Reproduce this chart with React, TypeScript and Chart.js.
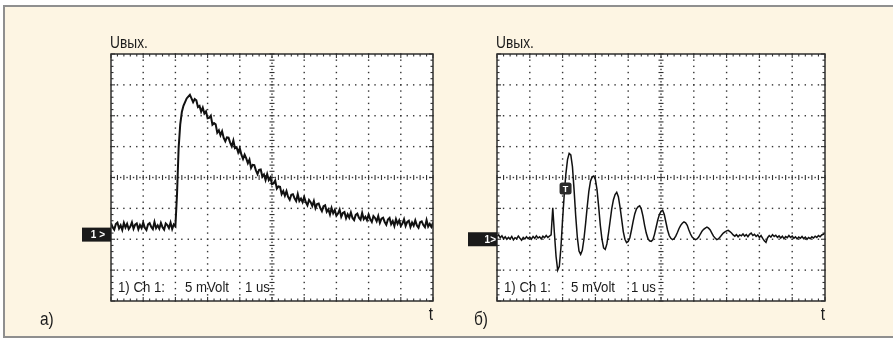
import React, { useEffect, useRef } from "react";
import { Chart, registerables } from "chart.js";

Chart.register(...registerables);

// Oscilloscope screen: 10 horizontal divisions, 8 vertical divisions (centre = 0)
const X_DIVS = 10;
const Y_HALF_DIVS = 4;
const SAMPLE_STEP = 0.05; // divisions between samples

const Y_LABEL = "Uвых.";
const X_LABEL = "t";
const SCOPE_TEXT = ["1) Ch 1:", "5 mVolt", "1 us"];
const PANEL_LABELS = ["а)", "б)"];

// Panel a) – response, values in divisions, one per SAMPLE_STEP
const TRACE_A = [
  -1.48, -1.61, -1.69, -1.51, -1.46, -1.65, -1.55, -1.70, -1.47, -1.62,
  -1.50, -1.67, -1.59, -1.45, -1.66, -1.53, -1.49, -1.68, -1.54, -1.64,
  -1.46, -1.63, -1.70, -1.52, -1.48, -1.60, -1.67, -1.44, -1.64, -1.55,
  -1.66, -1.47, -1.61, -1.69, -1.49, -1.54, -1.64, -1.46, -1.67, -1.52,
  -1.58, -0.55, 0.95, 1.72, 2.12, 2.32, 2.44, 2.56, 2.62,
  2.68, 2.56, 2.44, 2.54, 2.50, 2.28, 2.32, 2.13, 2.26, 2.07,
  2.14, 1.92, 1.93, 2.00, 1.71, 1.76, 1.72, 1.45, 1.53, 1.37,
  1.50, 1.28, 1.17, 1.30, 1.29, 1.13, 1.01, 1.20, 0.95, 0.98,
  0.81, 0.95, 0.74, 0.60, 0.74, 0.62, 0.46, 0.58, 0.31, 0.41,
  0.40, 0.23, 0.11, 0.25, 0.26, 0.03, 0.10, -0.08, 0.11, -0.08,
  0.00, -0.22, -0.19, -0.10, -0.36, -0.29, -0.30, -0.54, -0.44, -0.59,
  -0.44, -0.63, -0.72, -0.56, -0.54, -0.67, -0.76, -0.54, -0.76, -0.68,
  -0.80, -0.63, -0.80, -0.90, -0.73, -0.80, -0.92, -0.76, -0.99, -0.86,
  -0.84, -0.99, -1.09, -0.93, -0.90, -1.11, -1.03, -1.20, -0.99, -1.16,
  -1.05, -1.24, -1.17, -1.04, -1.27, -1.15, -1.12, -1.32, -1.19, -1.30,
  -1.13, -1.31, -1.38, -1.21, -1.17, -1.30, -1.37, -1.15, -1.35, -1.27,
  -1.38, -1.20, -1.35, -1.44, -1.25, -1.31, -1.42, -1.25, -1.47, -1.33,
  -1.30, -1.44, -1.53, -1.36, -1.31, -1.51, -1.41, -1.57, -1.35, -1.50,
  -1.39, -1.57, -1.49, -1.35, -1.57, -1.44, -1.40, -1.60, -1.46, -1.56,
  -1.39, -1.56, -1.63, -1.45, -1.42, -1.54, -1.61, -1.38, -1.59, -1.50,
  -1.60, -1.46,
];

// Panel б) – damped ringing, values in divisions, one per SAMPLE_STEP
const TRACE_B = [
  -1.90, -1.86, -1.95, -1.89, -1.98, -1.92, -2.00, -1.94, -1.99, -1.91,
  -2.02, -1.95, -1.98, -1.90, -1.97, -2.03, -1.94, -1.99, -1.92, -1.98,
  -1.93, -2.00, -1.91, -1.97, -1.89, -1.96, -1.92, -1.99, -1.90, -1.95,
  -1.88, -1.94, -1.90, -1.86, -0.98, -1.80, -2.55, -3.00, -2.88, -2.25,
  -1.35, -0.55, 0.12, 0.58, 0.78, 0.73, 0.35, -0.40, -1.25, -1.95,
  -2.38, -2.49, -2.36, -2.00, -1.50, -0.95, -0.45, -0.12, 0.02, 0.05,
  -0.06, -0.40, -0.95, -1.55, -2.00, -2.28, -2.33, -2.15, -1.80, -1.40,
  -1.00, -0.72, -0.55, -0.48, -0.62, -0.95, -1.35, -1.75, -2.00, -2.11,
  -2.07, -1.95, -1.70, -1.42, -1.18, -1.02, -0.95, -0.92, -1.02, -1.25,
  -1.55, -1.80, -1.97, -2.05, -2.07, -2.02, -1.85, -1.62, -1.38, -1.20,
  -1.10, -1.06, -1.20, -1.45, -1.70, -1.88, -1.97, -2.01, -1.98, -1.90,
  -1.78, -1.65, -1.55, -1.48, -1.44, -1.47, -1.55, -1.70, -1.83, -1.93,
  -1.98, -2.01, -1.99, -1.93, -1.83, -1.74, -1.68, -1.64, -1.61, -1.64,
  -1.70, -1.80, -1.90, -1.96, -2.01, -1.99, -1.93, -1.86, -1.80, -1.76,
  -1.73, -1.71, -1.75, -1.80, -1.86, -1.90, -1.85, -1.92, -1.86, -1.89,
  -1.83, -1.90, -1.85, -1.92, -1.84, -1.80, -1.88, -1.84, -1.91, -1.86,
  -1.94, -1.88, -1.97, -2.05, -2.10, -1.95, -1.88, -1.93, -1.85, -1.91,
  -1.87, -1.94, -1.89, -1.96, -1.90, -1.98, -1.91, -1.95, -1.88, -1.94,
  -1.90, -1.97, -1.92, -1.99, -1.93, -1.97, -1.91, -1.98, -1.93, -2.00,
  -1.94, -1.98, -1.92, -1.96, -1.90, -1.94, -1.88, -1.92, -1.86, -1.84,
  -1.80,
];

// ground-level markers ("1 >") and trigger marker, in divisions
const GROUND_LEVEL = [-1.85, -2.0];
const TRIGGER_POS = { x: 2.09, y: -0.36 };

const FONT = '"Liberation Sans", Arial, sans-serif';
const INK = "#1c1c1c";

type PanelCfg = {
  trace: number[];
  ground: number;
  panelLabel: string;
  panelLabelX: number;
  groundText: string;
  trigger: boolean;
};

function condensedText(
  ctx: CanvasRenderingContext2D,
  text: string,
  x: number,
  y: number,
  size: number,
  align: CanvasTextAlign,
  sx: number
) {
  ctx.save();
  ctx.translate(x, y);
  ctx.scale(sx, 1);
  ctx.font = `${size}px ${FONT}`;
  ctx.textAlign = align;
  ctx.textBaseline = "alphabetic";
  ctx.fillText(text, 0, 0);
  ctx.restore();
}

function makePlugin(cfg: PanelCfg) {
  return {
    id: "scope",
    beforeDatasetsDraw(chart: any) {
      const ctx = chart.ctx;
      const { left, right, top, bottom } = chart.chartArea;
      const xs = chart.scales.x;
      const ys = chart.scales.y;
      ctx.save();
      ctx.fillStyle = "#ffffff";
      ctx.fillRect(left, top, right - left, bottom - top);
      ctx.fillStyle = "#333333";
      const dot = (x: number, y: number, w = 1.4, h = 1.4) =>
        ctx.fillRect(x - w / 2, y - h / 2, w, h);
      // major vertical dotted lines
      for (let i = 1; i < X_DIVS; i++) {
        if (i === X_DIVS / 2) continue;
        const px = xs.getPixelForValue(i);
        for (let j = 0; j <= Y_HALF_DIVS * 2 * 5; j++) {
          dot(px, ys.getPixelForValue(-Y_HALF_DIVS + j * 0.2));
        }
      }
      // major horizontal dotted lines
      for (let k = -Y_HALF_DIVS + 1; k < Y_HALF_DIVS; k++) {
        if (k === 0) continue;
        const py = ys.getPixelForValue(k);
        for (let j = 0; j <= X_DIVS * 5; j++) {
          dot(xs.getPixelForValue(j * 0.2), py);
        }
      }
      // centre cross with minor ticks
      const cx = xs.getPixelForValue(X_DIVS / 2);
      const cy = ys.getPixelForValue(0);
      for (let j = 0; j <= Y_HALF_DIVS * 2 * 10; j++) {
        const py = ys.getPixelForValue(-Y_HALF_DIVS + j * 0.1);
        if (j % 2 === 0) dot(cx, py, 5, 1.1);
        else dot(cx, py);
      }
      for (let j = 0; j <= X_DIVS * 10; j++) {
        const px = xs.getPixelForValue(j * 0.1);
        if (j % 2 === 0) dot(px, cy, 1.1, 5);
        else dot(px, cy);
      }
      // border ticks
      for (let j = 0; j <= X_DIVS * 5; j++) {
        const px = xs.getPixelForValue(j * 0.2);
        const len = j % 5 === 0 ? 4 : 2.5;
        ctx.fillRect(px - 0.55, top, 1.1, len);
        ctx.fillRect(px - 0.55, bottom - len, 1.1, len);
      }
      for (let j = 0; j <= Y_HALF_DIVS * 2 * 5; j++) {
        const py = ys.getPixelForValue(-Y_HALF_DIVS + j * 0.2);
        const len = j % 5 === 0 ? 4 : 2.5;
        ctx.fillRect(left, py - 0.55, len, 1.1);
        ctx.fillRect(right - len, py - 0.55, len, 1.1);
      }
      ctx.restore();
    },
    afterDatasetsDraw(chart: any) {
      const ctx = chart.ctx;
      const { left, right, top, bottom } = chart.chartArea;
      const xs = chart.scales.x;
      const ys = chart.scales.y;
      ctx.save();
      // frame
      ctx.strokeStyle = "#2e2e2e";
      ctx.lineWidth = 1.5;
      ctx.strokeRect(left, top, right - left, bottom - top);
      // texts
      ctx.fillStyle = INK;
      condensedText(ctx, Y_LABEL, left - 1, top - 6, 16, "left", 0.86);
      condensedText(ctx, SCOPE_TEXT[0], left + 7, bottom - 9, 15, "left", 0.88);
      condensedText(ctx, SCOPE_TEXT[1], left + 74, bottom - 9, 15, "left", 0.88);
      condensedText(ctx, SCOPE_TEXT[2], left + 134, bottom - 9, 15, "left", 0.88);
      condensedText(ctx, X_LABEL, right, bottom + 19, 18, "right", 0.86);
      condensedText(ctx, cfg.panelLabel, cfg.panelLabelX, bottom + 24, 18, "left", 0.86);
      // ground marker
      const gy = ys.getPixelForValue(cfg.ground);
      ctx.fillStyle = "#1a1a1a";
      ctx.fillRect(left - 29, gy - 7, 29, 14);
      ctx.fillStyle = "#ffffff";
      ctx.font = `bold 10px ${FONT}`;
      ctx.textAlign = "right";
      ctx.textBaseline = "middle";
      ctx.fillText(cfg.groundText, cfg.trigger ? left - 1 : left - 6, gy + 0.5);
      // trigger marker
      if (cfg.trigger) {
        const tx = xs.getPixelForValue(TRIGGER_POS.x);
        const ty = ys.getPixelForValue(TRIGGER_POS.y);
        ctx.fillStyle = "#2a2a2a";
        ctx.beginPath();
        (ctx as any).roundRect(tx - 6, ty - 6, 12, 12, 2.5);
        ctx.fill();
        ctx.fillStyle = "#ffffff";
        ctx.font = `bold 9px ${FONT}`;
        ctx.textAlign = "center";
        ctx.fillText("T", tx, ty + 0.5);
      }
      ctx.restore();
    },
  };
}

function ScopePanel(props: {
  cfg: PanelCfg;
  width: number;
  padding: { left: number; right: number; top: number; bottom: number };
  lineWidth: number;
  style: React.CSSProperties;
}) {
  const ref = useRef<HTMLCanvasElement | null>(null);
  useEffect(() => {
    if (!ref.current) return;
    const points = props.cfg.trace.map((v, i) => ({ x: i * SAMPLE_STEP, y: v }));
    const chart = new Chart(ref.current, {
      type: "line",
      data: {
        datasets: [
          {
            data: points,
            borderColor: "#111111",
            borderWidth: props.lineWidth,
            pointRadius: 0,
            tension: 0,
            fill: false,
          },
        ],
      },
      options: {
        animation: false,
        responsive: false,
        maintainAspectRatio: false,
        events: [],
        layout: { padding: props.padding },
        plugins: { legend: { display: false }, tooltip: { enabled: false } },
        scales: {
          x: { type: "linear", min: 0, max: X_DIVS, display: false },
          y: { type: "linear", min: -Y_HALF_DIVS, max: Y_HALF_DIVS, display: false },
        },
      },
      plugins: [makePlugin(props.cfg)],
    } as any);
    return () => chart.destroy();
  }, []);
  return (
    <canvas
      ref={ref}
      width={props.width}
      height={340}
      style={{ position: "absolute", top: 0, width: props.width, height: 340, ...props.style }}
    />
  );
}

export default function App() {
  return (
    <div
      style={{
        position: "fixed",
        left: 0,
        top: 0,
        width: 893,
        height: 340,
        background: "#ffffff",
        overflow: "hidden",
      }}
    >
      <div
        style={{
          position: "absolute",
          left: 3,
          top: 5,
          width: 900,
          height: 333,
          boxSizing: "border-box",
          borderTop: "2px solid #8f8f8f",
          borderLeft: "2px solid #8f8f8f",
          borderBottom: "2px solid #8f8f8f",
          background: "#fdf5e3",
        }}
      />
      <ScopePanel
        cfg={{
          trace: TRACE_A,
          ground: GROUND_LEVEL[0],
          panelLabel: PANEL_LABELS[0],
          panelLabelX: 40,
          groundText: "1 >",
          trigger: false,
        }}
        width={446}
        padding={{ left: 111, right: 13, top: 54, bottom: 39 }}
        lineWidth={2.0}
        style={{ left: 0 }}
      />
      <ScopePanel
        cfg={{
          trace: TRACE_B,
          ground: GROUND_LEVEL[1],
          panelLabel: PANEL_LABELS[1],
          panelLabelX: 28,
          groundText: "1>",
          trigger: true,
        }}
        width={447}
        padding={{ left: 51, right: 68, top: 54, bottom: 39 }}
        lineWidth={1.5}
        style={{ left: 446 }}
      />
    </div>
  );
}
